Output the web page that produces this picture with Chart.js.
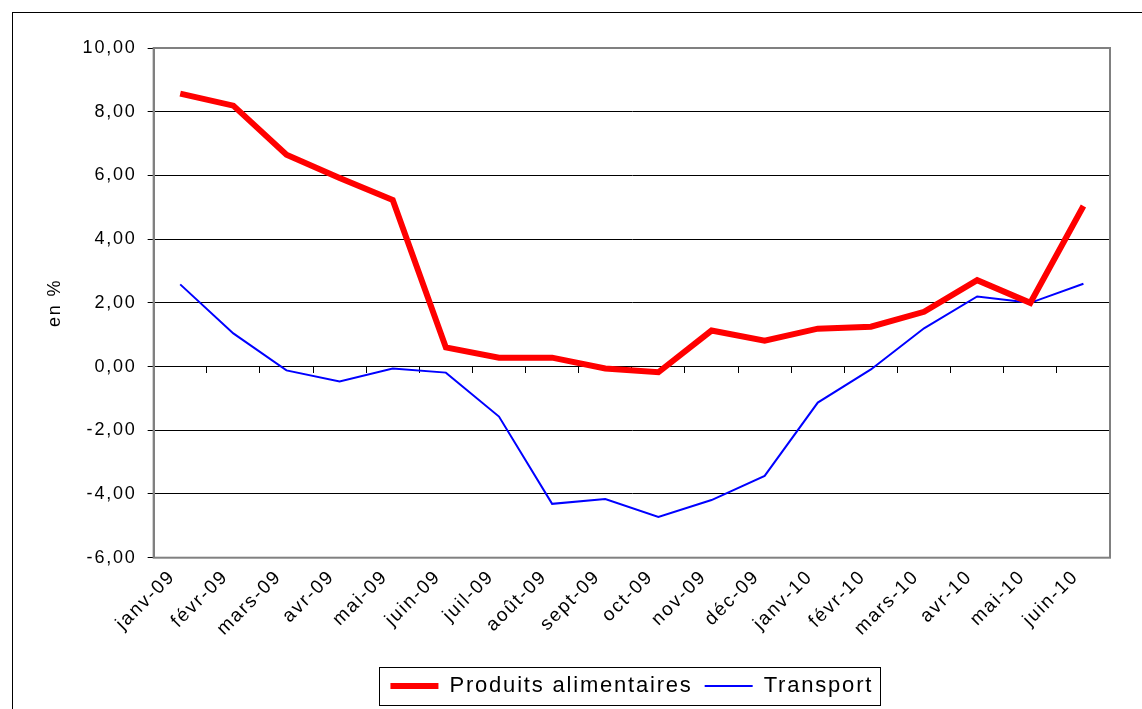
<!DOCTYPE html>
<html>
<head>
<meta charset="utf-8">
<script src="https://cdn.jsdelivr.net/npm/chart.js@4/dist/chart.umd.min.js"></script>
<style>
  html, body { margin: 0; padding: 0; background: #fff; overflow: hidden; }
  #frame { position: absolute; left: 12px; top: 12px; width: 1200px; height: 800px; border-left: 1px solid #000; border-top: 1px solid #000; }
  #wrap { position: absolute; left: 0; top: 0; width: 1142px; height: 709px; }
</style>
</head>
<body>
<div id="frame"></div>
<div id="wrap"><canvas id="chart" width="1142" height="709"></canvas></div>
<script>
const months = ['janv-09', 'févr-09', 'mars-09', 'avr-09', 'mai-09', 'juin-09', 'juil-09', 'août-09', 'sept-09',
    'oct-09', 'nov-09', 'déc-09', 'janv-10', 'févr-10', 'mars-10', 'avr-10', 'mai-10', 'juin-10'];
const foodValues = [8.57, 8.19, 6.65, 5.92, 5.23, 0.60, 0.28, 0.28, -0.06, -0.18, 1.13, 0.81, 1.19, 1.25, 1.72, 2.71, 2.00, 5.04];
const transportValues = [2.58, 1.04, -0.12, -0.47, -0.06, -0.19, -1.57, -4.31, -4.16, -4.72, -4.19, -3.43, -1.13, -0.09, 1.20, 2.20, 2.00, 2.60];
const yMin = -6, yMax = 10, yStep = 2;

const FONT = 'Liberation Sans, Arial, sans-serif';

// text in the original is spaced out a bit wider than plain Arial
function setSpacing(chart) {
    chart.ctx.letterSpacing = '1.8px';
}

const spacingPlugin = {
    id: 'spacing',
    afterInit: setSpacing,
    beforeUpdate: setSpacing,
    beforeDraw: setSpacing
};

// grey plot area frame
const plotFrame = {
    id: 'plotFrame',
    beforeDatasetsDraw(chart) {
        const a = chart.chartArea;
        const ctx = chart.ctx;
        ctx.save();
        ctx.strokeStyle = '#808080';
        ctx.lineWidth = 2;
        ctx.strokeRect(a.left, a.top, a.right - a.left, a.bottom - a.top);
        ctx.restore();
    }
};

// box round the legend
const legendBox = {
    id: 'legendBox',
    afterDraw(chart) {
        const boxes = chart.legend.legendHitBoxes;
        if (!boxes || !boxes.length) return;
        let l = Infinity, r = -Infinity, t = Infinity, b = -Infinity;
        boxes.forEach(h => {
            l = Math.min(l, h.left);
            r = Math.max(r, h.left + h.width);
            t = Math.min(t, h.top);
            b = Math.max(b, h.top + h.height);
        });
        const cy = (t + b) / 2;
        const ctx = chart.ctx;
        ctx.save();
        ctx.strokeStyle = '#000';
        ctx.lineWidth = 1;
        ctx.strokeRect(Math.round(l - 11) + 0.5, Math.round(cy - 19) + 0.5, Math.round(r - l + 18), 38);
        ctx.restore();
    }
};

const ctx = document.getElementById('chart').getContext('2d');
new Chart(ctx, {
    type: 'line',
    data: {
        labels: months,
        datasets: [
            {
                label: 'Produits alimentaires',
                data: foodValues,
                borderColor: '#ff0000',
                backgroundColor: '#ff0000',
                borderWidth: 6,
                pointRadius: 0,
                tension: 0,
                fill: false
            },
            {
                label: 'Transport',
                data: transportValues,
                borderColor: '#0000ff',
                backgroundColor: '#0000ff',
                borderWidth: 2,
                pointRadius: 0,
                tension: 0,
                fill: false
            }
        ]
    },
    options: {
        responsive: false,
        animation: false,
        devicePixelRatio: 1,
        layout: { padding: { left: 40, right: 32, top: 48, bottom: 2 } },
        plugins: {
            legend: {
                position: 'bottom',
                fullSize: false,
                labels: {
                    usePointStyle: true,
                    pointStyle: 'line',
                    pointStyleWidth: 48,
                    color: '#000',
                    padding: 12,
                    font: { family: FONT, size: 22 }
                }
            },
            tooltip: { enabled: false }
        },
        scales: {
            x: {
                type: 'category',
                offset: true,
                grid: { display: false },
                border: { display: false },
                afterFit: scale => { scale.height += 23; },
                ticks: {
                    autoSkip: false,
                    maxRotation: 45,
                    minRotation: 45,
                    padding: 0,
                    labelOffset: -8,
                    color: '#000',
                    font: { family: FONT, size: 19 }
                }
            },
            xZero: {
                type: 'category',
                axis: 'x',
                position: { y: 0 },
                offset: true,
                grid: { offset: true, drawOnChartArea: false, drawTicks: true, tickLength: 6, color: '#000', lineWidth: 1 },
                border: { display: true, color: '#000', width: 1 },
                ticks: { display: false }
            },
            y: {
                min: yMin,
                max: yMax,
                ticks: {
                    stepSize: yStep,
                    padding: 11,
                    color: '#000',
                    font: { family: FONT, size: 18 },
                    callback: v => v.toFixed(2).replace('.', ',')
                },
                grid: {
                    color: c => (c.tick && (c.tick.value === yMin || c.tick.value === yMax)) ? '#808080' : '#000',
                    tickColor: '#000',
                    tickLength: 6,
                    lineWidth: 1
                },
                border: { display: true, color: '#808080', width: 2 },
                title: {
                    display: true,
                    text: 'en %',
                    color: '#000',
                    padding: { top: 4, bottom: 6 },
                    font: { family: FONT, size: 18 }
                }
            }
        }
    },
    plugins: [spacingPlugin, plotFrame, legendBox]
});
</script>
</body>
</html>
